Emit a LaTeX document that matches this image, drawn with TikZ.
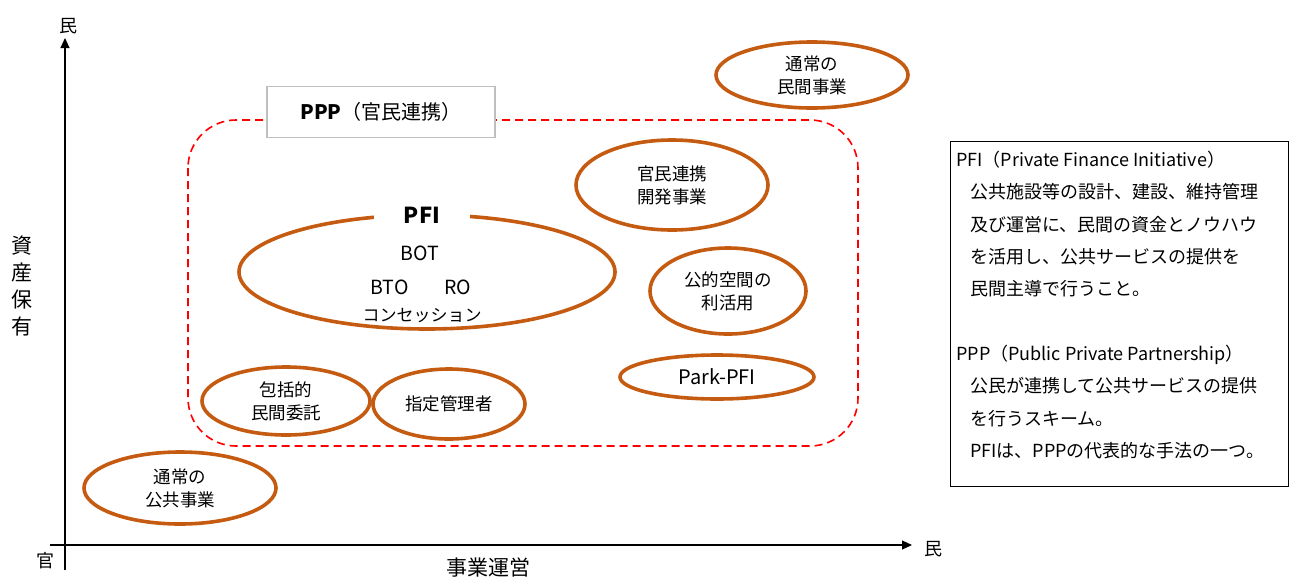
\documentclass[tikz,border=0pt]{standalone}
\usepackage{fontspec}
\setmainfont{Noto Sans CJK JP}
\usetikzlibrary{shapes.geometric,arrows.meta}
\definecolor{orng}{HTML}{C55A11}
\tikzset{
  oval/.style={ellipse, draw=orng, line width=3.6pt, inner sep=0pt, align=center, font=\fontsize{17.5}{23}\selectfont},
  axis/.style={line width=1.1pt, -{Triangle[length=10pt,width=9pt]}},
  lbl/.style={font=\fontsize{18}{22}\selectfont, inner sep=0pt},
}
\begin{document}
\begin{tikzpicture}[x=1pt,y=-1pt]
\useasboundingbox (0,0) rectangle (1290,579);
% axes
\coordinate (yo) at (65,570);
\coordinate (yt) at (65,38);
\coordinate (xo) at (50,545);
\coordinate (xt) at (912,545);
\draw[axis] (yo) -- (yt);
\draw[axis] (xo) -- (xt);
\node[lbl] (ymin) at (68,26) {民};
\node[lbl] (xmax) at (933,549) {民};
\node[lbl] (orig) at (45,561) {官};
\node[font=\fontsize{21}{22}\selectfont, inner sep=0pt] (xlab) at (488,568) {事業運営};
\node[font=\fontsize{21}{27}\selectfont, inner sep=0pt, align=center] (ylab) at (22,286) {資\\産\\保\\有};
% PPP region
\draw[red, line width=1.6pt, dash pattern=on 8pt off 5pt, rounded corners=48pt] (188,120) rectangle (858,446);
\node[draw=black!25, fill=white, line width=1.2pt, minimum width=228pt, minimum height=51pt, font=\fontsize{20}{22}\selectfont] (ppp) at (381,112) {\textbf{PPP}（官民連携）};
% ellipses
\node[oval, minimum width=192pt, minimum height=66pt] (minkan) at (812,75) {通常の\\民間事業};
\node[oval, minimum width=192pt, minimum height=90pt] (kaihatsu) at (672,185) {官民連携\\開発事業};
\node[oval, minimum width=376pt, minimum height=114pt] (pfi) at (427,272) {};
\node[fill=white, minimum width=96pt, inner sep=2pt, font=\bfseries\fontsize{22}{22}\selectfont] (pfil) at (422,215) {PFI};
\node[lbl, font=\fontsize{19.5}{22}\selectfont] (bot) at (420,253) {BOT};
\node[lbl, font=\fontsize{19.5}{22}\selectfont] (btoro) at (421,287) {BTO\hspace{36pt}RO};
\node[lbl, font=\fontsize{17}{22}\selectfont] (conc) at (422,316) {コンセッション};
\node[oval, minimum width=156pt, minimum height=86pt] (koteki) at (728,291) {公的空間の\\利活用};
\node[oval, minimum width=194pt, minimum height=44pt, font=\fontsize{20}{22}\selectfont] (park) at (717,377) {Park-PFI};
\node[oval, minimum width=168pt, minimum height=68pt] (hokatsu) at (286,401) {包括的\\民間委託};
\node[oval, minimum width=152pt, minimum height=70pt] (shitei) at (449,404) {指定管理者};
\node[oval, minimum width=192pt, minimum height=72pt] (kokyo) at (180,488) {通常の\\公共事業};
% explanation box
\node[draw=black, line width=1.4pt, minimum width=338pt, minimum height=345pt, anchor=north west] (box) at (950,141) {};
\node[anchor=north west, inner sep=0pt, align=left, font=\fontsize{18}{32.3}\selectfont] (expl) at (956,151) {%
PFI（Private Finance Initiative）\\
\hspace{14pt}公共施設等の設計、建設、維持管理\\
\hspace{14pt}及び運営に、民間の資金とノウハウ\\
\hspace{14pt}を活用し、公共サービスの提供を\\
\hspace{14pt}民間主導で行うこと。\\[32.3pt]
PPP（Public Private Partnership）\\
\hspace{14pt}公民が連携して公共サービスの提供\\
\hspace{14pt}を行うスキーム。\\
\hspace{14pt}PFIは、PPPの代表的な手法の一つ。};
\end{tikzpicture}
\end{document}
